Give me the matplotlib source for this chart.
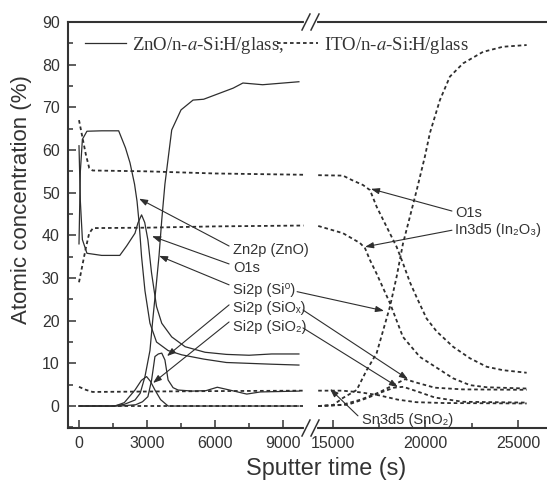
import numpy as np
import matplotlib
matplotlib.use("Agg")
import matplotlib.pyplot as plt
from matplotlib.lines import Line2D
from matplotlib.ticker import MultipleLocator, FixedLocator

plt.rcParams["font.family"] = ["Liberation Sans", "DejaVu Sans"]
plt.rcParams["mathtext.fontset"] = "stix"

INK = "#2e2e2e"

# ---------------- data ----------------
# ZnO/n-a-Si:H/glass (solid), sputter time 0..~9700 s
zno_zn_t = [0, 60, 150, 350, 1000, 1750, 2050, 2250, 2450, 2560, 2650, 2760, 2910,
            3130, 3420, 3930, 4530, 5500, 6500, 7500, 8500, 9700]
zno_zn = [38, 55, 62.5, 64.4, 64.5, 64.5, 60.5, 57, 52, 48, 43, 35, 27,
          19.4, 15, 13, 12, 11, 10.2, 10, 9.8, 9.6]

zno_o_t = [0, 60, 150, 350, 1000, 1800, 2100, 2470, 2600, 2760, 2900, 3040, 3200,
           3420, 3650, 4090, 4680, 5560, 6500, 7500, 8500, 9700]
zno_o = [61, 48, 39, 35.8, 35.3, 35.3, 37.5, 40.5, 42.9, 44.8, 43, 38.9, 31.2,
         23.3, 19.4, 16.2, 13.9, 12.6, 12.1, 11.9, 12.2, 12.2]

zno_si_t = [0, 1500, 2000, 2470, 2700, 2910, 3130, 3250, 3400, 3530, 3650, 3790,
            4090, 4500, 5030, 5500, 6350, 6800, 7230, 8100, 9700]
zno_si = [0, 0, 0.4, 1.4, 3, 6.9, 13, 20, 28, 35.2, 43.6, 52,
          64.7, 69.4, 71.7, 71.9, 73.6, 74.5, 75.7, 75.3, 76]

zno_siox_t = [0, 1800, 2500, 2800, 3040, 3200, 3350, 3500, 3650, 3790, 3930, 4150,
              4370, 5000, 5600, 6100, 6600, 7000, 7400, 8000, 9700]
zno_siox = [0, 0, 0.3, 1, 2.2, 6, 11.6, 12.2, 12.4, 10.8, 6.1, 4.3,
            3.75, 3.5, 3.6, 4.4, 3.8, 3.3, 2.8, 3.3, 3.5]

zno_sio2_t = [0, 1590, 2000, 2470, 2750, 2980, 3150, 3350, 3600, 3930, 9700]
zno_sio2 = [0, 0, 0.8, 3.75, 6, 6.9, 5.8, 3.75, 1.5, 0, 0]

# ITO/n-a-Si:H/glass (dashed), left segment 0..~9900 s
ito_o_t1 = [0, 150, 300, 450, 600, 3000, 6000, 9900]
ito_o_1 = [67, 63, 59, 55.8, 55.2, 55, 54.5, 54.2]
ito_in_t1 = [0, 150, 300, 450, 620, 3000, 6000, 9900]
ito_in_1 = [29, 33, 37, 40.5, 41.7, 41.8, 42.1, 42.3]
ito_sn_t1 = [0, 300, 600, 3000, 6000, 9900]
ito_sn_1 = [4.5, 3.8, 3.3, 3.4, 3.5, 3.6]
ito_si_t1 = [0, 9900]
ito_si_1 = [0, 0]

# ITO, right segment ~14200..25500 s
ito_o_t2 = [14200, 15540, 16000, 16620, 17000, 17360, 17900, 18440, 18780, 19160,
            19520, 20060, 20600, 21490, 22400, 23310, 24190, 25470]
ito_o_2 = [54.1, 54, 53, 51.8, 50.6, 46.7, 42, 37.3, 33.5, 29,
           25.5, 20.5, 17.5, 13.9, 11.2, 9.2, 8.4, 7.8]
ito_in_t2 = [14200, 15540, 16460, 16730, 17000, 17360, 18080, 18780, 19700, 20600,
             21490, 22400, 23310, 25470]
ito_in_2 = [42.2, 40.5, 38.2, 37, 34.2, 31, 24.1, 16.2, 11.5, 9,
            6.5, 4.9, 4.4, 4.1]
ito_si_t2 = [14200, 15000, 15540, 16280, 16820, 17360, 18080, 18440, 18780, 19160,
             19520, 19970, 20240, 20780, 21320, 22030, 23110, 24190, 25470]
ito_si_2 = [0, 0.2, 1.9, 3.75, 8.4, 12.4, 23.3, 30.3, 38, 44.4,
            50.5, 58.5, 64, 71.7, 77.2, 80.3, 83, 84.2, 84.6]
ito_sn_t2 = [14200, 15500, 16500, 17500, 18500, 19500, 21000, 25470]
ito_sn_2 = [3.6, 3.6, 3.2, 2.5, 1.5, 0.9, 0.7, 0.6]
ito_siox_t2 = [14200, 15500, 16500, 17500, 18300, 18900, 19500, 20500, 22000, 25470]
ito_siox_2 = [0, 0.3, 1.5, 3.2, 5, 6.3, 5.5, 4.3, 3.9, 3.8]
ito_sio2_t2 = [14200, 15800, 16800, 17600, 18300, 18800, 19500, 20500, 22000, 25470]
ito_sio2_2 = [0, 0.3, 1.8, 3.2, 4.3, 4.5, 3.5, 2, 1, 0.8]

# ---------------- figure ----------------
W, H = 547, 480
fig = plt.figure(figsize=(W / 100, H / 100), dpi=100)

x0, xb, x1 = 68, 315, 547
ytop, ybot = 22, 428
axL = fig.add_axes([x0 / W, 1 - ybot / H, (xb - x0) / W, (ybot - ytop) / H])
axR = fig.add_axes([xb / W, 1 - ybot / H, (x1 - xb) / W, (ybot - ytop) / H])
for ax in (axL, axR):
    ax.patch.set_alpha(0)
    ax.set_ylim(-5.15, 90)

axL.set_xlim(-485, 10410)
axR.set_xlim(14027, 26570)

solid = dict(color=INK, lw=0.9, ls="-")
dash = dict(color=INK, lw=1.3, ls=(0, (2.0, 1.6)))

for t, v in [(zno_zn_t, zno_zn), (zno_o_t, zno_o), (zno_si_t, zno_si),
             (zno_siox_t, zno_siox), (zno_sio2_t, zno_sio2)]:
    axL.plot(t, v, **solid)

for t, v in [(ito_o_t1, ito_o_1), (ito_in_t1, ito_in_1), (ito_sn_t1, ito_sn_1),
             (ito_si_t1, ito_si_1)]:
    axL.plot(t, v, **dash)

for t, v in [(ito_o_t2, ito_o_2), (ito_in_t2, ito_in_2), (ito_si_t2, ito_si_2),
             (ito_sn_t2, ito_sn_2), (ito_siox_t2, ito_siox_2), (ito_sio2_t2, ito_sio2_2)]:
    axR.plot(t, v, **dash)

# spines / ticks
for ax in (axL, axR):
    for s in ax.spines.values():
        s.set_linewidth(1.5)
        s.set_color("#333333")
    ax.tick_params(which="both", direction="in", top=False, right=False,
                   width=1.1, color="#333333", labelsize=11.5, labelcolor="#333333", pad=6)
    ax.tick_params(which="major", length=6)
    ax.tick_params(which="minor", length=3.5)
axL.spines["right"].set_visible(False)
axR.spines["left"].set_visible(False)
axR.spines["right"].set_visible(False)

axL.set_xticks([0, 3000, 6000, 9000])
axL.xaxis.set_minor_locator(FixedLocator([1500, 4500, 7500]))
axL.yaxis.set_major_locator(MultipleLocator(10))
axL.yaxis.set_minor_locator(MultipleLocator(5))
axR.set_xticks([15000, 20000, 25000])
axR.xaxis.set_minor_locator(FixedLocator([17500, 22500]))
axR.set_yticks([])
axR.tick_params(axis="y", which="both", left=False)

fig.text(22 / W, 1 - 200 / H, "Atomic concentration (%)", rotation=90,
         ha="center", va="center", fontsize=16, color="#333333")
fig.text(326 / W, 1 - 468 / H, "Sputter time (s)", ha="center", va="center",
         fontsize=16.8, color="#333333")

# axis break marks
def fpx(x, y):
    return x / W, 1 - y / H

for yc in (ytop, ybot):
    gx0, gy = fpx(306, yc)
    gx1, _ = fpx(315, yc)
    fig.add_artist(Line2D([gx0, gx1], [gy, gy], color="white", lw=3))
    for sx in (302, 311):
        a = fpx(sx, yc + 8)
        b = fpx(sx + 8, yc - 8)
        fig.add_artist(Line2D([a[0], b[0]], [a[1], b[1]], color="#333333", lw=1.1))

# legend
h1 = Line2D([], [], **solid)
h2 = Line2D([], [], **dash)
fig.legend([h1, h2], ["ZnO/n-$a$-Si:H/glass,", "ITO/n-$a$-Si:H/glass"],
           loc="center left", bbox_to_anchor=fpx(85, 45), ncol=2, frameon=False,
           handlelength=2.2, handletextpad=0.3, columnspacing=-0.35,
           borderpad=0, borderaxespad=0,
           prop={"family": "Liberation Serif", "size": 13.5}, labelcolor="#333333")

# annotations
arrow = dict(arrowstyle="-|>,head_length=0.5,head_width=0.18", color=INK, lw=0.8,
             shrinkA=0, shrinkB=0)
lab = dict(fontsize=10.5, color="#333333", va="center", ha="left")

left_labels = [
    ("Zn2p (ZnO)", 36.6, [((6620, 37.5), axL, (2650, 48.6))]),
    ("O1s", 32.3, [((6620, 33.3), axL, (3220, 39.8))]),
    ("Si2p (Si\u2070)", 27.2, [((6620, 28.4), axL, (3530, 35.2)),
                              ((9620, 26.8), axR, (17760, 22.3))]),
    ("Si2p (SiO\u2093)", 23.0, [((6620, 23.7), axL, (3880, 11.7)),
                               ((9880, 22.5), axR, (19050, 6.3))]),
    ("Si2p (SiO\u2082)", 18.6, [((6620, 19.7), axL, (3265, 5.4)),
                               ((9880, 18.3), axR, (18510, 4.45))]),
]
for text, ty, arrows in left_labels:
    axL.text(6800, ty, text, **lab)
    for start, tax, tgt in arrows:
        axL.annotate("", xy=tgt, xycoords=tax.transData, xytext=start,
                     textcoords=axL.transData, arrowprops=arrow, annotation_clip=False)

right_labels = [
    ("O1s", (21590, 45.2), (21430, 45.7), (17050, 50.9)),
    ("In3d5 (In\u2082O\u2083)", (21590, 41.2), (21430, 41.2), (16730, 37.3)),
    ("Sn3d5 (SnO\u2082)", (16570, -3.3), (16350, -2.3), (14840, 4.0)),
]
for text, tpos, start, tgt in right_labels:
    axR.text(tpos[0], tpos[1], text, **lab)
    axR.annotate("", xy=tgt, xycoords=axR.transData, xytext=start,
                 textcoords=axR.transData, arrowprops=arrow, annotation_clip=False)

fig.savefig("out.png", dpi=100)
